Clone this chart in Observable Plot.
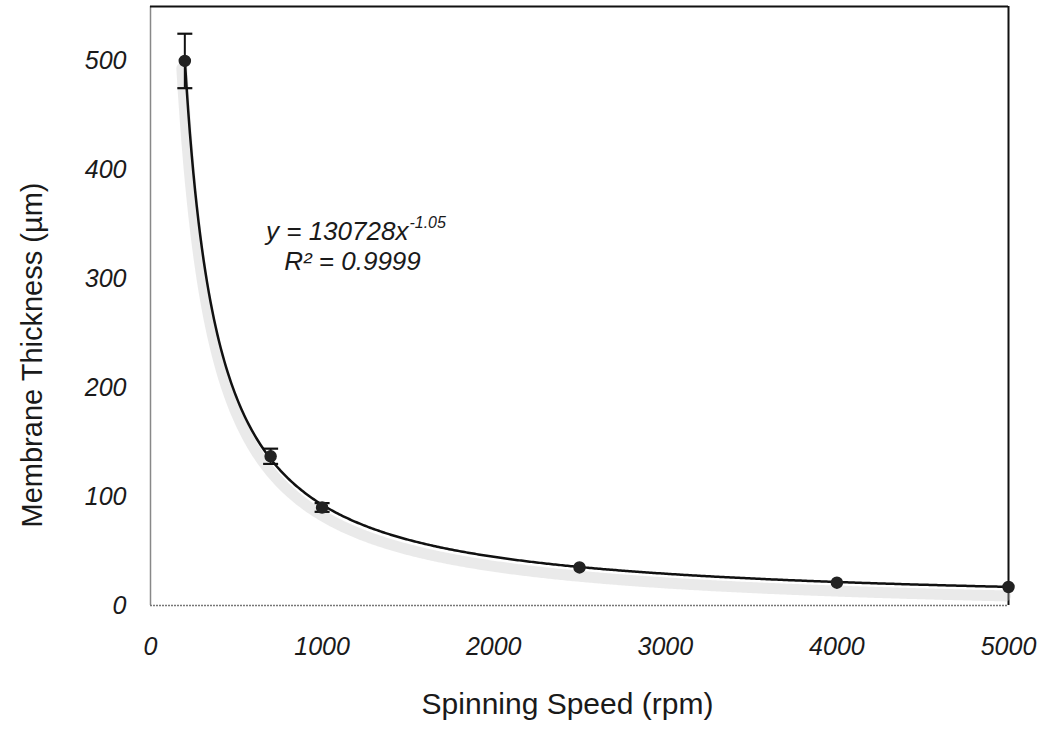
<!DOCTYPE html>
<html>
<head>
<meta charset="utf-8">
<script src="https://cdn.jsdelivr.net/npm/d3@7"></script>
<script src="https://cdn.jsdelivr.net/npm/@observablehq/plot@0.6"></script>
<style>
  html, body { margin: 0; padding: 0; background: #fff; }
  #chart { width: 1052px; height: 746px; }
  svg { font-family: "Liberation Sans", Arial, sans-serif; }
</style>
</head>
<body>
<div id="chart"></div>
<script>
const speeds = [200, 700, 1000, 2500, 4000, 5000];           // rpm
const thickness = [500, 137, 90, 35, 21, 17];                // µm
const errors = [25, 7, 4, 0, 0, 0];                          // µm (± error bar)

// Power-law fit printed on the chart: y = 130728 x^-1.05, R² = 0.9999
const fitCoef = 130728;
const fitExp = -1.05;

const xTicks = [0, 1000, 2000, 3000, 4000, 5000];
const yTicks = [0, 100, 200, 300, 400, 500];

const xLabel = "Spinning Speed (rpm)";
const yLabel = "Membrane Thickness (µm)";

const points = speeds.map((s, i) => ({x: s, y: thickness[i], err: errors[i]}));
const bars = points.filter(d => d.err > 0);
const curve = d3.range(200, 5001, 10).map(x => ({x, y: fitCoef * Math.pow(x, fitExp)}));

const capSymbol = {
  draw(context, size) {
    context.moveTo(-7.5, 0);
    context.lineTo(7.5, 0);
  }
};

const chart = Plot.plot({
  width: 1052,
  height: 746,
  marginLeft: 150,
  marginRight: 44,
  marginTop: 6,
  marginBottom: 141,
  style: {fontFamily: "'Liberation Sans', Arial, sans-serif", background: "#fff"},
  x: {domain: [0, 5000]},
  y: {domain: [0, 550]},
  marks: [
    // frame
    Plot.ruleX([0], {stroke: "#888", strokeWidth: 1.5}),
    Plot.ruleY([0], {stroke: "#777", strokeWidth: 1.5, strokeDasharray: "2,1"}),
    Plot.ruleY([550], {stroke: "#111", strokeWidth: 2}),
    Plot.ruleX([5000], {stroke: "#111", strokeWidth: 2}),
    // axes
    Plot.axisX(xTicks, {tickSize: 0, tickPadding: 32, tickFormat: d3.format("d"), fontSize: 25, fontStyle: "italic", fill: "#1a1a1a", label: null}),
    Plot.axisY(yTicks, {tickSize: 0, tickPadding: 24, tickFormat: d3.format("d"), fontSize: 25, fontStyle: "italic", fill: "#1a1a1a", label: null}),
    // axis titles
    Plot.text([xLabel], {x: 2430, frameAnchor: "bottom", dy: 108, text: d => d, fontSize: 30, fill: "#1a1a1a"}),
    Plot.text([yLabel], {x: 0, y: 230, dx: -118, rotate: -90, text: d => d, fontSize: 29, fill: "#1a1a1a"}),
    // scan shadow under the fitted curve
    Plot.line(curve, {x: "x", y: "y", stroke: "#c4c4c4", strokeWidth: 11, strokeOpacity: 0.35, dx: -3, dy: 9}),
    // fitted curve
    Plot.line(curve, {x: "x", y: "y", stroke: "#111", strokeWidth: 2.5}),
    // error bars
    Plot.ruleX(bars, {x: "x", y1: d => d.y - d.err, y2: d => d.y + d.err, stroke: "#111", strokeWidth: 2}),
    Plot.dot(bars, {x: "x", y: d => d.y + d.err, symbol: capSymbol, stroke: "#111", strokeWidth: 2.2, fill: "none"}),
    Plot.dot(bars, {x: "x", y: d => d.y - d.err, symbol: capSymbol, stroke: "#111", strokeWidth: 2.2, fill: "none"}),
    // data points
    Plot.dot(points, {x: "x", y: "y", r: 5.5, fill: "#222", stroke: "#222"}),
    // fit annotation
    Plot.text(["y = 130728x"], {x: 1503, y: 343, text: d => d, textAnchor: "end", fontSize: 26, fontStyle: "italic", fill: "#1a1a1a"}),
    Plot.text(["-1.05"], {x: 1503, y: 351, dx: 1, text: d => d, textAnchor: "start", fontSize: 16, fontStyle: "italic", fill: "#1a1a1a"}),
    Plot.text(["R² = 0.9999"], {x: 1177, y: 316, text: d => d, fontSize: 26, fontStyle: "italic", fill: "#1a1a1a"})
  ]
});

document.getElementById("chart").appendChild(chart);
</script>
</body>
</html>
